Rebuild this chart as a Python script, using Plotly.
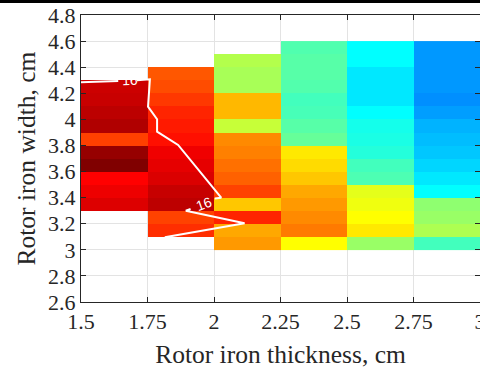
import plotly.graph_objects as go

# Row centres (rotor iron width, cm) and column centres (rotor iron thickness, cm)
thickness = [1.625, 1.875, 2.125, 2.375, 2.625, 2.875]
width = [3.05, 3.15, 3.25, 3.35, 3.45, 3.55, 3.65, 3.75, 3.85, 3.95,
         4.05, 4.15, 4.25, 4.35, 4.45, 4.55]

# Normalised metric per column, listed bottom (3.05) to top (4.55); None = not evaluated
col_1p5 = [None, None, None, 0.908, 0.892, 0.875, 1.0, 0.978, 0.8125, 0.953,
           0.941, 0.929, 0.925, None, None, None]
col_1p75 = [None, 0.83, 0.81, 0.94, 0.93, 0.91, 0.90, 0.89, 0.86, 0.85,
            0.84, 0.82, 0.80, 0.79, None, None]
col_2p0 = [0.725, 0.71, 0.84, 0.68, 0.81, 0.78, 0.765, 0.75, 0.74, 0.57,
           0.695, 0.695, 0.54, 0.54, 0.55, None]
col_2p25 = [0.625, 0.755, 0.74, 0.725, 0.71, 0.68, 0.66, 0.647, 0.475, 0.46,
            0.445, 0.44, 0.455, 0.46, 0.46, 0.453]
col_2p5 = [0.525, 0.647, 0.625, 0.61, 0.60, 0.45, 0.44, 0.41, 0.40, 0.395,
           0.375, 0.352, 0.352, 0.352, 0.375, 0.375]
col_2p75 = [0.44, 0.545, 0.525, 0.515, 0.375, 0.352, 0.335, 0.32, 0.31, 0.30,
            0.28, 0.265, 0.274, 0.274, 0.274, 0.274]

# Contour line (level 16), broken where its labels sit
contour_x = [1.5, 1.64, None, 1.71, 1.759, 1.752, 1.786, 1.786, 1.865, 2.027, 2.003,
             None, 1.912, 1.894, 2.115, 1.815]
contour_y = [4.285, 4.295, None, 4.30, 4.307, 4.097, 4.001, 3.906, 3.804, 3.40, 3.393,
             None, 3.313, 3.300, 3.204, 3.097]
label_x = [1.684, 1.961]
label_y = [4.300, 3.354]
label_angle = [-2, -20]
label_text = ["16", "16"]

x_ticks = [1.5, 1.75, 2, 2.25, 2.5, 2.75, 3]
x_ticktext = ["1.5", "1.75", "2", "2.25", "2.5", "2.75", "3"]
y_ticks = [2.6, 2.8, 3.0, 3.2, 3.4, 3.6, 3.8, 4.0, 4.2, 4.4, 4.6, 4.8]
y_ticktext = ["2.6", "2.8", "3", "3.2", "3.4", "3.6", "3.8", "4", "4.2", "4.4", "4.6", "4.8"]

columns = [col_1p5, col_1p75, col_2p0, col_2p25, col_2p5, col_2p75]
z = [[columns[c][r] for c in range(len(columns))] for r in range(len(width))]

jet = [[0.0, "rgb(0,0,128)"], [0.125, "rgb(0,0,255)"], [0.375, "rgb(0,255,255)"],
       [0.625, "rgb(255,255,0)"], [0.875, "rgb(255,0,0)"], [1.0, "rgb(128,0,0)"]]

fig = go.Figure()
fig.add_trace(go.Heatmap(x=thickness, y=width, z=z, colorscale=jet, zmin=0, zmax=1,
                         showscale=False, hoverongaps=False))
fig.add_trace(go.Scatter(x=contour_x, y=contour_y, mode="lines",
                         line=dict(color="white", width=2), showlegend=False,
                         connectgaps=False))
for lx, ly, la, lt in zip(label_x, label_y, label_angle, label_text):
    fig.add_annotation(x=lx, y=ly, text=lt, showarrow=False, textangle=la,
                       font=dict(family="Liberation Sans, Arial, sans-serif", size=14,
                                 color="white"))

font_family = "Liberation Serif, Times New Roman, serif"
axis_common = dict(showline=True, linecolor="#262626", linewidth=1, mirror="ticks",
                   ticks="inside", ticklen=5, tickcolor="#262626", showgrid=True,
                   gridcolor="#e3e3e3", gridwidth=1, zeroline=False,
                   ticklabeloverflow="allow", automargin=False,
                   tickfont=dict(family=font_family, size=22, color="#262626"))

fig.update_xaxes(range=[1.5, 3], tickvals=x_ticks, ticktext=x_ticktext,
                 title=dict(text="Rotor iron thickness, cm",
                            font=dict(family=font_family, size=25.5, color="#262626")),
                 **axis_common)
fig.update_yaxes(range=[2.6, 4.8], tickvals=y_ticks, ticktext=y_ticktext, **axis_common)

# y-axis title placed as an annotation for exact positioning
fig.add_annotation(xref="paper", yref="paper", x=(26 - 81) / 399, y=0.5,
                   xanchor="center", yanchor="middle", textangle=-90,
                   text="Rotor iron width, cm", showarrow=False,
                   font=dict(family=font_family, size=25.5, color="#262626"))

# black rule along the very top of the image
fig.add_shape(type="rect", xref="paper", yref="paper", x0=-0.3, x1=1.1,
              y0=299 / 287, y1=302 / 287, fillcolor="black", line=dict(width=0))

fig.update_layout(width=480, height=369, margin=dict(l=81, r=0, t=15, b=67),
                  plot_bgcolor="white", paper_bgcolor="white", showlegend=False)

fig.write_html("out.html")
